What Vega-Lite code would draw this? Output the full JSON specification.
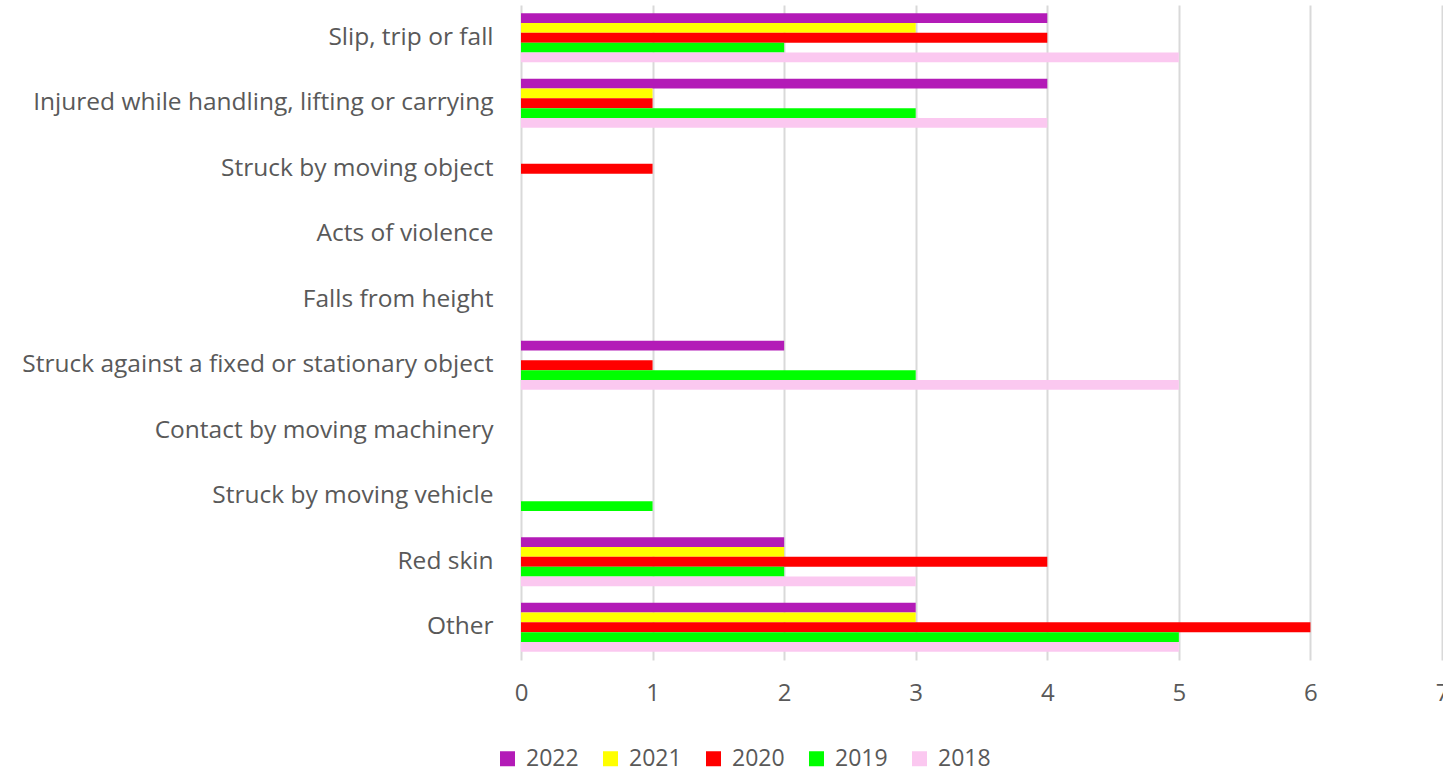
{
  "$schema": "https://vega.github.io/schema/vega-lite/v6.json",
  "autosize": "none",
  "width": 921,
  "height": 655,
  "padding": {"left": 521, "top": 5, "right": 1, "bottom": 113},
  "background": "white",
  "config": {
    "view": {"stroke": null},
    "font": "Open Sans"
  },
  "data": {
    "values": [
      {"cause": "Slip, trip or fall", "year": "2022", "count": 4},
      {"cause": "Slip, trip or fall", "year": "2021", "count": 3},
      {"cause": "Slip, trip or fall", "year": "2020", "count": 4},
      {"cause": "Slip, trip or fall", "year": "2019", "count": 2},
      {"cause": "Slip, trip or fall", "year": "2018", "count": 5},
      {"cause": "Injured while handling, lifting or carrying", "year": "2022", "count": 4},
      {"cause": "Injured while handling, lifting or carrying", "year": "2021", "count": 1},
      {"cause": "Injured while handling, lifting or carrying", "year": "2020", "count": 1},
      {"cause": "Injured while handling, lifting or carrying", "year": "2019", "count": 3},
      {"cause": "Injured while handling, lifting or carrying", "year": "2018", "count": 4},
      {"cause": "Struck by moving object", "year": "2022", "count": 0},
      {"cause": "Struck by moving object", "year": "2021", "count": 0},
      {"cause": "Struck by moving object", "year": "2020", "count": 1},
      {"cause": "Struck by moving object", "year": "2019", "count": 0},
      {"cause": "Struck by moving object", "year": "2018", "count": 0},
      {"cause": "Acts of violence", "year": "2022", "count": 0},
      {"cause": "Acts of violence", "year": "2021", "count": 0},
      {"cause": "Acts of violence", "year": "2020", "count": 0},
      {"cause": "Acts of violence", "year": "2019", "count": 0},
      {"cause": "Acts of violence", "year": "2018", "count": 0},
      {"cause": "Falls from height", "year": "2022", "count": 0},
      {"cause": "Falls from height", "year": "2021", "count": 0},
      {"cause": "Falls from height", "year": "2020", "count": 0},
      {"cause": "Falls from height", "year": "2019", "count": 0},
      {"cause": "Falls from height", "year": "2018", "count": 0},
      {"cause": "Struck against a fixed or stationary object", "year": "2022", "count": 2},
      {"cause": "Struck against a fixed or stationary object", "year": "2021", "count": 0},
      {"cause": "Struck against a fixed or stationary object", "year": "2020", "count": 1},
      {"cause": "Struck against a fixed or stationary object", "year": "2019", "count": 3},
      {"cause": "Struck against a fixed or stationary object", "year": "2018", "count": 5},
      {"cause": "Contact by moving machinery", "year": "2022", "count": 0},
      {"cause": "Contact by moving machinery", "year": "2021", "count": 0},
      {"cause": "Contact by moving machinery", "year": "2020", "count": 0},
      {"cause": "Contact by moving machinery", "year": "2019", "count": 0},
      {"cause": "Contact by moving machinery", "year": "2018", "count": 0},
      {"cause": "Struck by moving vehicle", "year": "2022", "count": 0},
      {"cause": "Struck by moving vehicle", "year": "2021", "count": 0},
      {"cause": "Struck by moving vehicle", "year": "2020", "count": 0},
      {"cause": "Struck by moving vehicle", "year": "2019", "count": 1},
      {"cause": "Struck by moving vehicle", "year": "2018", "count": 0},
      {"cause": "Red skin", "year": "2022", "count": 2},
      {"cause": "Red skin", "year": "2021", "count": 2},
      {"cause": "Red skin", "year": "2020", "count": 4},
      {"cause": "Red skin", "year": "2019", "count": 2},
      {"cause": "Red skin", "year": "2018", "count": 3},
      {"cause": "Other", "year": "2022", "count": 3},
      {"cause": "Other", "year": "2021", "count": 3},
      {"cause": "Other", "year": "2020", "count": 6},
      {"cause": "Other", "year": "2019", "count": 5},
      {"cause": "Other", "year": "2018", "count": 5}
    ]
  },
  "mark": {"type": "bar"},
  "encoding": {
    "y": {
      "field": "cause",
      "type": "nominal",
      "sort": null,
      "scale": {"paddingInner": 0.25, "paddingOuter": 0.125},
      "axis": {
        "title": null,
        "ticks": false,
        "domain": false,
        "grid": false,
        "labelFontSize": 24.5,
        "labelColor": "#595959",
        "labelPadding": 28,
        "labelLimit": 0
      }
    },
    "yOffset": {
      "field": "year",
      "type": "nominal",
      "scale": {"domain": ["2022", "2021", "2020", "2019", "2018"], "paddingInner": 0, "paddingOuter": 0}
    },
    "x": {
      "field": "count",
      "type": "quantitative",
      "scale": {"domain": [0, 7], "nice": false},
      "axis": {
        "title": null,
        "values": [0, 1, 2, 3, 4, 5, 6, 7],
        "ticks": false,
        "domain": false,
        "grid": true,
        "gridColor": "#d9d9d9",
        "gridWidth": 2,
        "labelFontSize": 24,
        "labelColor": "#595959",
        "labelPadding": 21,
        "labelFlush": false
      }
    },
    "color": {
      "field": "year",
      "type": "nominal",
      "scale": {
        "domain": ["2022", "2021", "2020", "2019", "2018"],
        "range": ["#B31BB7", "#FFFF00", "#FF0000", "#00FF00", "#FBC8F0"]
      },
      "legend": {
        "title": null,
        "orient": "none",
        "direction": "horizontal",
        "legendX": -25,
        "legendY": 742,
        "symbolType": "square",
        "symbolSize": 225,
        "symbolStrokeWidth": 0,
        "symbolOpacity": 1,
        "labelFontSize": 23,
        "labelColor": "#595959",
        "labelOffset": 7,
        "columnPadding": 20
      }
    }
  }
}
